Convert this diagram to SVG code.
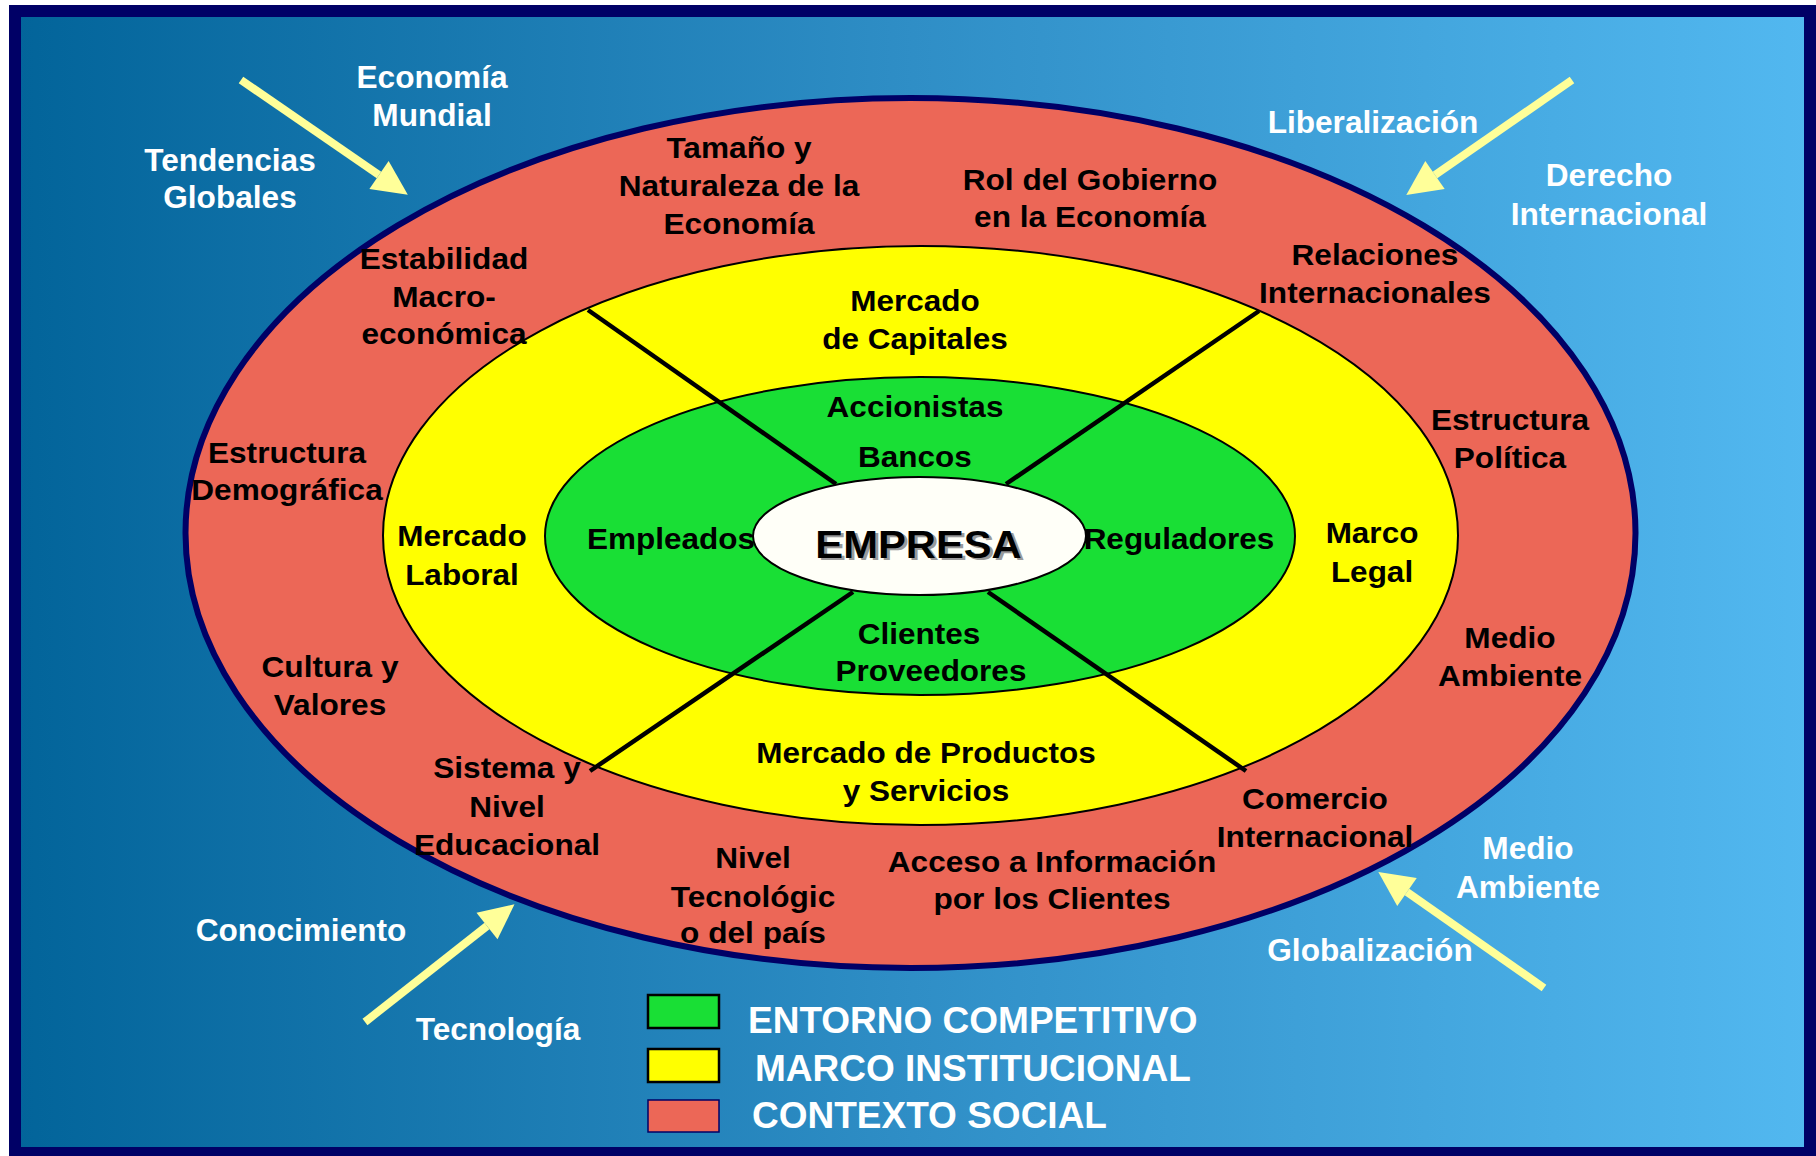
<svg xmlns="http://www.w3.org/2000/svg" width="1816" height="1156" viewBox="0 0 1816 1156">
<defs>
<linearGradient id="bg" x1="0" y1="0" x2="1" y2="0">
<stop offset="0" stop-color="#02649a"/>
<stop offset="0.5" stop-color="#2f8ec6"/>
<stop offset="1" stop-color="#52b8f0"/>
</linearGradient>
<marker id="ah" markerUnits="userSpaceOnUse" markerWidth="40" markerHeight="40" viewBox="0 -20 40 40" refX="0" refY="0" orient="auto" overflow="visible">
<path d="M0,-17 L35,0 L0,17 z" fill="#ffff99"/>
</marker>
<style>
text{font-family:"Liberation Sans",Arial,sans-serif;font-weight:bold;text-anchor:middle}
.r{font-size:29px;fill:#000}
.y{font-size:30px;fill:#000}
.w{font-size:31px;fill:#fff}
.lg{font-size:37px;fill:#fff;text-anchor:start}
.ring{stroke:#000;stroke-width:2}
.div{stroke:#000;stroke-width:4.5;stroke-linecap:butt}
.arr{stroke:#ffff99;stroke-width:8;marker-end:url(#ah)}
</style>
</defs>
<rect x="0" y="0" width="1816" height="1156" fill="#ffffff"/>
<rect x="15" y="11" width="1795" height="1142" fill="url(#bg)"/>

<g id="contexto-social">
<ellipse cx="910.5" cy="533" rx="725" ry="435" fill="#ec6757" stroke="#000066" stroke-width="6"/>
</g>
<g id="marco-institucional">
<ellipse cx="920.5" cy="535.5" rx="537.5" ry="289.5" fill="#ffff00" class="ring"/>
</g>
<g id="entorno-competitivo">
<ellipse cx="920" cy="536" rx="375" ry="159" fill="#19df35" class="ring"/>
</g>
<g id="connectors">
<line class="div" x1="588" y1="310" x2="836" y2="484"/>
<line class="div" x1="1259" y1="311" x2="1006" y2="484"/>
<line class="div" x1="590" y1="771" x2="853" y2="592"/>
<line class="div" x1="1246" y1="771" x2="988" y2="592"/>
</g>
<g id="empresa">
<ellipse cx="919.5" cy="536" rx="166.5" ry="59" fill="#fffff8" class="ring"/>
<text transform="translate(921.5,560) scale(1.07,1)" style="font-size:39px;fill:#9a9a9a">EMPRESA</text>
<text transform="translate(918.5,558) scale(1.07,1)" style="font-size:39px;fill:#000">EMPRESA</text>
</g>

<g id="labels-social">
<text class="r" transform="translate(739,158) scale(1.09,1)"><tspan x="0" y="0">Tamaño y</tspan><tspan x="0" y="38">Naturaleza de la</tspan><tspan x="0" y="76">Economía</tspan></text>
<text class="r" transform="translate(1090,190) scale(1.09,1)"><tspan x="0" y="0">Rol del Gobierno</tspan><tspan x="0" y="37">en la Economía</tspan></text>
<text class="r" transform="translate(444,269) scale(1.09,1)"><tspan x="0" y="0">Estabilidad</tspan><tspan x="0" y="38">Macro-</tspan><tspan x="0" y="75">económica</tspan></text>
<text class="r" transform="translate(1375,265) scale(1.09,1)"><tspan x="0" y="0">Relaciones</tspan><tspan x="0" y="38">Internacionales</tspan></text>
<text class="r" transform="translate(287,463) scale(1.09,1)"><tspan x="0" y="0">Estructura</tspan><tspan x="0" y="37">Demográfica</tspan></text>
<text class="r" transform="translate(1510,430) scale(1.09,1)"><tspan x="0" y="0">Estructura</tspan><tspan x="0" y="38">Política</tspan></text>
<text class="r" transform="translate(1510,648) scale(1.09,1)"><tspan x="0" y="0">Medio</tspan><tspan x="0" y="38">Ambiente</tspan></text>
<text class="r" transform="translate(330,677) scale(1.09,1)"><tspan x="0" y="0">Cultura y</tspan><tspan x="0" y="38">Valores</tspan></text>
<text class="r" transform="translate(507,778) scale(1.09,1)"><tspan x="0" y="0">Sistema y</tspan><tspan x="0" y="39">Nivel</tspan><tspan x="0" y="77">Educacional</tspan></text>
<text class="r" transform="translate(753,868) scale(1.09,1)"><tspan x="0" y="0">Nivel</tspan><tspan x="0" y="39">Tecnológic</tspan><tspan x="0" y="75">o del país</tspan></text>
<text class="r" transform="translate(1052,872) scale(1.09,1)"><tspan x="0" y="0">Acceso a Información</tspan><tspan x="0" y="37">por los Clientes</tspan></text>
<text class="r" transform="translate(1315,809) scale(1.09,1)"><tspan x="0" y="0">Comercio</tspan><tspan x="0" y="38">Internacional</tspan></text>
</g>

<g id="labels-institucional">
<text class="y" transform="translate(915,311) scale(1.05,1)"><tspan x="0" y="0">Mercado</tspan><tspan x="0" y="38">de Capitales</tspan></text>
<text class="y" transform="translate(462,546) scale(1.05,1)"><tspan x="0" y="0">Mercado</tspan><tspan x="0" y="39">Laboral</tspan></text>
<text class="y" transform="translate(1372,543) scale(1.05,1)"><tspan x="0" y="0">Marco</tspan><tspan x="0" y="39">Legal</tspan></text>
<text class="y" transform="translate(926,763) scale(1.05,1)"><tspan x="0" y="0">Mercado de Productos</tspan><tspan x="0" y="38">y Servicios</tspan></text>
</g>

<g id="labels-competitivo">
<text class="y" transform="translate(915,417) scale(1.05,1)">Accionistas</text>
<text class="y" transform="translate(915,467) scale(1.05,1)">Bancos</text>
<text class="y" transform="translate(671,549) scale(1.05,1)">Empleados</text>
<text class="y" transform="translate(1179,549) scale(1.05,1)">Reguladores</text>
<text class="y" transform="translate(919,644) scale(1.05,1)">Clientes</text>
<text class="y" transform="translate(931,681) scale(1.05,1)">Proveedores</text>
</g>

<g id="labels-external">
<text class="w" transform="translate(432,88) scale(1.02,1)"><tspan x="0" y="0">Economía</tspan><tspan x="0" y="38">Mundial</tspan></text>
<text class="w" transform="translate(230,171) scale(1.02,1)"><tspan x="0" y="0">Tendencias</tspan><tspan x="0" y="37">Globales</tspan></text>
<text class="w" transform="translate(1373,133) scale(1.02,1)">Liberalización</text>
<text class="w" transform="translate(1609,186) scale(1.02,1)"><tspan x="0" y="0">Derecho</tspan><tspan x="0" y="39">Internacional</tspan></text>
<text class="w" transform="translate(301,941) scale(1.02,1)">Conocimiento</text>
<text class="w" transform="translate(498,1040) scale(1.02,1)">Tecnología</text>
<text class="w" transform="translate(1528,859) scale(1.02,1)"><tspan x="0" y="0">Medio</tspan><tspan x="0" y="39">Ambiente</tspan></text>
<text class="w" transform="translate(1370,961) scale(1.02,1)">Globalización</text>
</g>

<g id="arrows">
<line class="arr" x1="241" y1="80" x2="379" y2="175"/>
<line class="arr" x1="1572" y1="80" x2="1435" y2="175"/>
<line class="arr" x1="365" y1="1022" x2="487" y2="926"/>
<line class="arr" x1="1544" y1="988" x2="1407" y2="892"/>
</g>

<g id="legend">
<rect x="648" y="995" width="71" height="33" fill="#19df35" stroke="#000" stroke-width="2.5"/>
<rect x="648" y="1049" width="71" height="33" fill="#ffff00" stroke="#000" stroke-width="2.5"/>
<rect x="648" y="1100" width="71" height="32" fill="#ec6757" stroke="#000066" stroke-width="1.5"/>
<text class="lg" x="748" y="1033">ENTORNO COMPETITIVO</text>
<text class="lg" x="755" y="1081">MARCO INSTITUCIONAL</text>
<text class="lg" x="752" y="1128">CONTEXTO SOCIAL</text>
</g>

<rect x="15" y="11" width="1795" height="1142" fill="none" stroke="#000066" stroke-width="12"/>
</svg>
